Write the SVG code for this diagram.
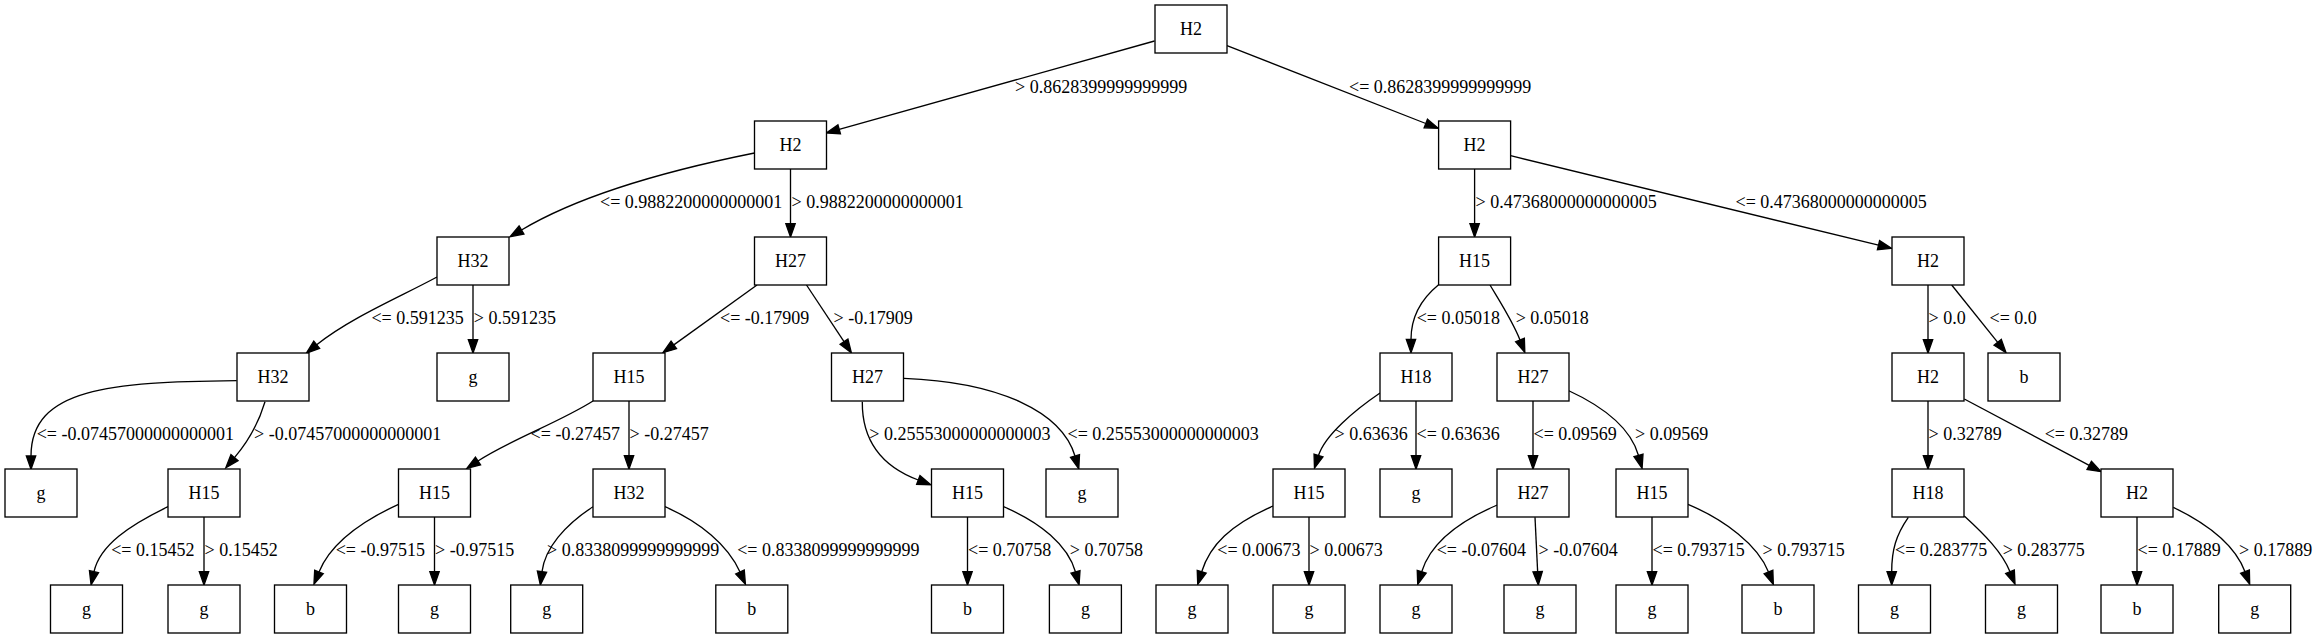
<svg xmlns="http://www.w3.org/2000/svg" width="2320" height="639" viewBox="0 0 2320 639">
<style>
.n rect{fill:#fff;stroke:#000;stroke-width:1.33}
.n text{font-family:"Liberation Serif","Times New Roman",serif;font-size:18px;text-anchor:middle;fill:#000}
.e path{fill:none;stroke:#000;stroke-width:1.33;marker-end:url(#ah)}
.l text{font-family:"Liberation Serif","Times New Roman",serif;font-size:18px;fill:#000}
</style>
<defs>
<marker id="ah" markerUnits="userSpaceOnUse" markerWidth="16" markerHeight="12" viewBox="0 0 16 12" refX="0" refY="6" orient="auto" overflow="visible">
<path d="M0,1.33 L13.33,6 L0,10.67 Z" fill="#000" stroke="#000" stroke-width="1.33"/>
</marker>
</defs>
<rect width="2320" height="639" fill="#fff"/>
<g id="edges" class="e">
<path d="M1154.5,41 L839.2,129.4"/>
<path d="M1227,45.7 L1425.8,123.5"/>
<path d="M754.5,153 C660,172 575,198 521.5,230"/>
<path d="M790.5,169 V223.7"/>
<path d="M1474.6,169 V223.7"/>
<path d="M1510.6,155.7 L1878.5,245.2"/>
<path d="M437,277 C400,297 350,318 316.7,344.8"/>
<path d="M473,285 V339.7"/>
<path d="M757,285 L673.8,344.9"/>
<path d="M806.5,285 L844,341.6"/>
<path d="M1438.3,285 C1420,300 1411,318 1411,339.4"/>
<path d="M1490,285 C1502,305 1513,322 1520,340"/>
<path d="M1928,285 V339.7"/>
<path d="M1951.7,285 L1997.7,342.3"/>
<path d="M236.7,380.7 C110,382 31,388 31,456"/>
<path d="M265,401.7 C258,425 247,443 234.5,457.6"/>
<path d="M593,401 C560,422 510,440 478,461"/>
<path d="M629,401 V455.7"/>
<path d="M862.3,401.7 C862,440 881,466 918.3,480"/>
<path d="M904,378.3 C1000,382 1062,412 1075,456"/>
<path d="M1380,393 C1355,410 1325,435 1318.5,455.5"/>
<path d="M1416,401 V455.7"/>
<path d="M1533,401 V455.7"/>
<path d="M1567.3,390 C1600,405 1630,425 1638.5,455.5"/>
<path d="M1928,401 V455.7"/>
<path d="M1964.3,399 L2089.2,465.4"/>
<path d="M168,506.7 C130,525 100,545 94,571.7"/>
<path d="M204,517 V571.7"/>
<path d="M398.5,504.3 C360,522 330,545 319,571.9"/>
<path d="M434.5,517 V571.7"/>
<path d="M593,506.7 C565,525 545,548 542,571.7"/>
<path d="M665,506.7 C700,522 728,545 740,572"/>
<path d="M967.5,517 V571.7"/>
<path d="M1003.5,506.7 C1040,522 1068,545 1075.5,572"/>
<path d="M1273,506 C1230,525 1210,545 1201.7,571.7"/>
<path d="M1309,517 V571.7"/>
<path d="M1497.3,505 C1455,523 1430,545 1421.7,571.7"/>
<path d="M1535,517.3 L1537.65,571.7"/>
<path d="M1652,517 V571.7"/>
<path d="M1688,504.3 C1725,520 1758,545 1768.5,572"/>
<path d="M1908.3,517.3 C1896,535 1891.7,550 1891.7,571.7"/>
<path d="M1964.3,516 C1985,535 2002,552 2010,571.7"/>
<path d="M2137,517 V571.7"/>
<path d="M2173.3,507.3 C2210,525 2235,545 2245,571.7"/>
</g>
<g id="edge-labels" class="l">
<text x="1015" y="92.5">&gt; 0.8628399999999999</text>
<text x="1349" y="92.5">&lt;= 0.8628399999999999</text>
<text x="600" y="208">&lt;= 0.9882200000000001</text>
<text x="791.5" y="208">&gt; 0.9882200000000001</text>
<text x="1475.5" y="208">&gt; 0.47368000000000005</text>
<text x="1735.5" y="208">&lt;= 0.47368000000000005</text>
<text x="371.4" y="324">&lt;= 0.591235</text>
<text x="473.8" y="324">&gt; 0.591235</text>
<text x="720" y="324">&lt;= -0.17909</text>
<text x="833.6" y="324">&gt; -0.17909</text>
<text x="1416.7" y="324">&lt;= 0.05018</text>
<text x="1515.7" y="324">&gt; 0.05018</text>
<text x="1928.5" y="324">&gt; 0.0</text>
<text x="1989.5" y="324">&lt;= 0.0</text>
<text x="36.7" y="440">&lt;= -0.07457000000000001</text>
<text x="254" y="440">&gt; -0.07457000000000001</text>
<text x="530.6" y="440">&lt;= -0.27457</text>
<text x="629.5" y="440">&gt; -0.27457</text>
<text x="869.3" y="440">&gt; 0.25553000000000003</text>
<text x="1067.5" y="440">&lt;= 0.25553000000000003</text>
<text x="1334.6" y="440">&gt; 0.63636</text>
<text x="1416.5" y="440">&lt;= 0.63636</text>
<text x="1533.5" y="440">&lt;= 0.09569</text>
<text x="1635" y="440">&gt; 0.09569</text>
<text x="1928.5" y="440">&gt; 0.32789</text>
<text x="2044.7" y="440">&lt;= 0.32789</text>
<text x="111.2" y="556">&lt;= 0.15452</text>
<text x="204.5" y="556">&gt; 0.15452</text>
<text x="335.7" y="556">&lt;= -0.97515</text>
<text x="435" y="556">&gt; -0.97515</text>
<text x="547" y="556">&gt; 0.8338099999999999</text>
<text x="737.2" y="556">&lt;= 0.8338099999999999</text>
<text x="968" y="556">&lt;= 0.70758</text>
<text x="1069.8" y="556">&gt; 0.70758</text>
<text x="1217.3" y="556">&lt;= 0.00673</text>
<text x="1309.5" y="556">&gt; 0.00673</text>
<text x="1436.7" y="556">&lt;= -0.07604</text>
<text x="1538.5" y="556">&gt; -0.07604</text>
<text x="1652.5" y="556">&lt;= 0.793715</text>
<text x="1762.6" y="556">&gt; 0.793715</text>
<text x="1895" y="556">&lt;= 0.283775</text>
<text x="2002.7" y="556">&gt; 0.283775</text>
<text x="2137.5" y="556">&lt;= 0.17889</text>
<text x="2239" y="556">&gt; 0.17889</text>
</g>
<g id="n0" class="n"><rect x="1155" y="5" width="72" height="48"/><text x="1191" y="35">H2</text></g>
<g id="n1" class="n"><rect x="754.5" y="121" width="72" height="48"/><text x="790.5" y="151">H2</text></g>
<g id="n2" class="n"><rect x="1438.6" y="121" width="72" height="48"/><text x="1474.6" y="151">H2</text></g>
<g id="n3" class="n"><rect x="437" y="237" width="72" height="48"/><text x="473" y="267">H32</text></g>
<g id="n4" class="n"><rect x="754.5" y="237" width="72" height="48"/><text x="790.5" y="267">H27</text></g>
<g id="n5" class="n"><rect x="1438.6" y="237" width="72" height="48"/><text x="1474.6" y="267">H15</text></g>
<g id="n6" class="n"><rect x="1892" y="237" width="72" height="48"/><text x="1928" y="267">H2</text></g>
<g id="n7" class="n"><rect x="237" y="353" width="72" height="48"/><text x="273" y="383">H32</text></g>
<g id="n8" class="n"><rect x="437" y="353" width="72" height="48"/><text x="473" y="383">g</text></g>
<g id="n9" class="n"><rect x="593" y="353" width="72" height="48"/><text x="629" y="383">H15</text></g>
<g id="n10" class="n"><rect x="831.5" y="353" width="72" height="48"/><text x="867.5" y="383">H27</text></g>
<g id="n11" class="n"><rect x="1380" y="353" width="72" height="48"/><text x="1416" y="383">H18</text></g>
<g id="n12" class="n"><rect x="1497" y="353" width="72" height="48"/><text x="1533" y="383">H27</text></g>
<g id="n13" class="n"><rect x="1892" y="353" width="72" height="48"/><text x="1928" y="383">H2</text></g>
<g id="n14" class="n"><rect x="1988" y="353" width="72" height="48"/><text x="2024" y="383">b</text></g>
<g id="n15" class="n"><rect x="5" y="469" width="72" height="48"/><text x="41" y="499">g</text></g>
<g id="n16" class="n"><rect x="168" y="469" width="72" height="48"/><text x="204" y="499">H15</text></g>
<g id="n17" class="n"><rect x="398.5" y="469" width="72" height="48"/><text x="434.5" y="499">H15</text></g>
<g id="n18" class="n"><rect x="593" y="469" width="72" height="48"/><text x="629" y="499">H32</text></g>
<g id="n19" class="n"><rect x="931.5" y="469" width="72" height="48"/><text x="967.5" y="499">H15</text></g>
<g id="n20" class="n"><rect x="1046" y="469" width="72" height="48"/><text x="1082" y="499">g</text></g>
<g id="n21" class="n"><rect x="1273" y="469" width="72" height="48"/><text x="1309" y="499">H15</text></g>
<g id="n22" class="n"><rect x="1380" y="469" width="72" height="48"/><text x="1416" y="499">g</text></g>
<g id="n23" class="n"><rect x="1497" y="469" width="72" height="48"/><text x="1533" y="499">H27</text></g>
<g id="n24" class="n"><rect x="1616" y="469" width="72" height="48"/><text x="1652" y="499">H15</text></g>
<g id="n25" class="n"><rect x="1892" y="469" width="72" height="48"/><text x="1928" y="499">H18</text></g>
<g id="n26" class="n"><rect x="2101" y="469" width="72" height="48"/><text x="2137" y="499">H2</text></g>
<g id="n27" class="n"><rect x="50.5" y="585" width="72" height="48"/><text x="86.5" y="615">g</text></g>
<g id="n28" class="n"><rect x="168" y="585" width="72" height="48"/><text x="204" y="615">g</text></g>
<g id="n29" class="n"><rect x="274.5" y="585" width="72" height="48"/><text x="310.5" y="615">b</text></g>
<g id="n30" class="n"><rect x="398.5" y="585" width="72" height="48"/><text x="434.5" y="615">g</text></g>
<g id="n31" class="n"><rect x="510.7" y="585" width="72" height="48"/><text x="546.7" y="615">g</text></g>
<g id="n32" class="n"><rect x="715.8" y="585" width="72" height="48"/><text x="751.8" y="615">b</text></g>
<g id="n33" class="n"><rect x="931.5" y="585" width="72" height="48"/><text x="967.5" y="615">b</text></g>
<g id="n34" class="n"><rect x="1049.4" y="585" width="72" height="48"/><text x="1085.4" y="615">g</text></g>
<g id="n35" class="n"><rect x="1156" y="585" width="72" height="48"/><text x="1192" y="615">g</text></g>
<g id="n36" class="n"><rect x="1273" y="585" width="72" height="48"/><text x="1309" y="615">g</text></g>
<g id="n37" class="n"><rect x="1380" y="585" width="72" height="48"/><text x="1416" y="615">g</text></g>
<g id="n38" class="n"><rect x="1504" y="585" width="72" height="48"/><text x="1540" y="615">g</text></g>
<g id="n39" class="n"><rect x="1616" y="585" width="72" height="48"/><text x="1652" y="615">g</text></g>
<g id="n40" class="n"><rect x="1742" y="585" width="72" height="48"/><text x="1778" y="615">b</text></g>
<g id="n41" class="n"><rect x="1858.5" y="585" width="72" height="48"/><text x="1894.5" y="615">g</text></g>
<g id="n42" class="n"><rect x="1985.5" y="585" width="72" height="48"/><text x="2021.5" y="615">g</text></g>
<g id="n43" class="n"><rect x="2101" y="585" width="72" height="48"/><text x="2137" y="615">b</text></g>
<g id="n44" class="n"><rect x="2218.7" y="585" width="72" height="48"/><text x="2254.7" y="615">g</text></g>
</svg>
